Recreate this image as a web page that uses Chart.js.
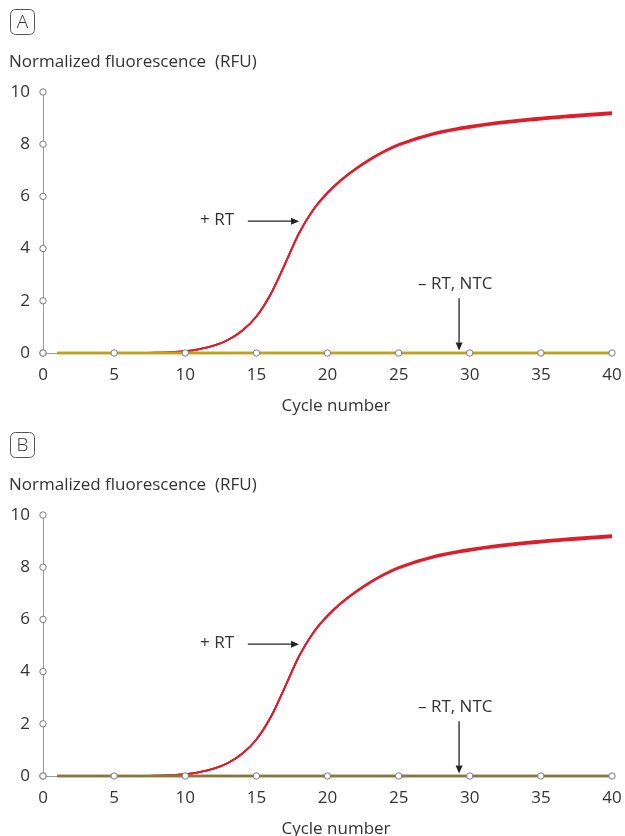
<!DOCTYPE html>
<html lang="en">
<head>
  <meta charset="UTF-8">
  <title>RT-qPCR amplification</title>
  <script src="https://cdn.jsdelivr.net/npm/chart.js"></script>
  <style>
    body { margin: 0; background: #fff; }
    canvas { display: block; }
  </style>
</head>
<body>
  <canvas id="panelA" width="625" height="423"></canvas>
  <canvas id="panelB" width="625" height="413"></canvas>

  <script>
    const cycles = [1, 2, 3, 4, 5, 6, 7, 8, 9, 10, 11, 12, 13, 14, 15, 16, 17, 18, 19, 20,
                    21, 22, 23, 24, 25, 26, 27, 28, 29, 30, 31, 32, 33, 34, 35, 36, 37, 38, 39, 40];

    // + RT replicates
    const plusRT1 = [0, 0, 0, 0, 0, 0, 0, 0.01, 0.03, 0.07, 0.15, 0.28, 0.5, 0.85, 1.4, 2.25, 3.4, 4.6, 5.5, 6.15,
                     6.66, 7.08, 7.44, 7.75, 8.0, 8.2, 8.36, 8.5, 8.61, 8.7, 8.78, 8.85, 8.91, 8.97, 9.02, 9.07, 9.11, 9.15, 9.19, 9.23];
    const plusRT2 = [0, 0, 0, 0, 0, 0, 0, 0.01, 0.03, 0.07, 0.15, 0.28, 0.5, 0.85, 1.39, 2.24, 3.39, 4.58, 5.48, 6.12,
                     6.63, 7.04, 7.4, 7.7, 7.95, 8.14, 8.3, 8.43, 8.54, 8.63, 8.71, 8.78, 8.84, 8.89, 8.94, 8.99, 9.03, 9.07, 9.11, 9.14];
    const plusRT3 = [0, 0, 0, 0, 0, 0, 0, 0.01, 0.03, 0.07, 0.15, 0.28, 0.5, 0.85, 1.4, 2.25, 3.4, 4.59, 5.49, 6.14,
                     6.65, 7.06, 7.42, 7.73, 7.98, 8.17, 8.33, 8.47, 8.58, 8.67, 8.75, 8.82, 8.88, 8.93, 8.98, 9.03, 9.07, 9.11, 9.15, 9.19];
    // - RT and NTC controls
    const minusRT = [0, 0, 0, 0, 0, 0, 0, 0, 0, 0, 0, 0, 0, 0, 0, 0, 0, 0, 0, 0,
                     0, 0, 0, 0, 0, 0, 0, 0, 0, 0, 0, 0, 0, 0, 0, 0, 0, 0, 0, 0];
    const ntc = [0, 0, 0, 0, 0, 0, 0, 0, 0, 0, 0, 0, 0, 0, 0, 0, 0, 0, 0, 0,
                 0, 0, 0, 0, 0, 0, 0, 0, 0, 0, 0, 0, 0, 0, 0, 0, 0, 0, 0, 0];

    const xTicks = [0, 5, 10, 15, 20, 25, 30, 35, 40];
    const yTicks = [0, 2, 4, 6, 8, 10];

    const FONT = '"Open Sans", "Noto Sans", sans-serif';
    const TEXT = '#333333';
    const AXIS = '#9a9a9a';
    const RED = '#dc1f2c';

    function pts(values) {
      return values.map((v, i) => ({ x: cycles[i], y: v }));
    }

    function arrow(ctx, x1, y1, x2, y2) {
      const a = Math.atan2(y2 - y1, x2 - x1);
      const len = 8, w = 3.5;
      ctx.save();
      ctx.strokeStyle = '#222';
      ctx.fillStyle = '#222';
      ctx.lineWidth = 1.3;
      ctx.beginPath();
      ctx.moveTo(x1, y1);
      ctx.lineTo(x2 - len * Math.cos(a), y2 - len * Math.sin(a));
      ctx.stroke();
      ctx.beginPath();
      ctx.moveTo(x2, y2);
      ctx.lineTo(x2 - len * Math.cos(a) - w * Math.sin(a), y2 - len * Math.sin(a) + w * Math.cos(a));
      ctx.lineTo(x2 - len * Math.cos(a) + w * Math.sin(a), y2 - len * Math.sin(a) - w * Math.cos(a));
      ctx.closePath();
      ctx.fill();
      ctx.restore();
    }

    const decorations = {
      id: 'decorations',
      afterDatasetsDraw(chart, args, opts) {
        const ctx = chart.ctx;
        const xs = chart.scales.x, ys = chart.scales.y;
        const area = chart.chartArea;

        // tick circles on both axes
        ctx.save();
        ctx.lineWidth = 1;
        ctx.strokeStyle = '#7a7a7a';
        ctx.fillStyle = '#fff';
        xTicks.forEach(t => {
          ctx.beginPath();
          ctx.arc(xs.getPixelForValue(t), area.bottom, 3.2, 0, Math.PI * 2);
          ctx.fill(); ctx.stroke();
        });
        yTicks.forEach(t => {
          ctx.beginPath();
          ctx.arc(area.left, ys.getPixelForValue(t), 3.2, 0, Math.PI * 2);
          ctx.fill(); ctx.stroke();
        });
        ctx.restore();

        // panel letter box
        ctx.save();
        ctx.strokeStyle = '#555';
        ctx.lineWidth = 1;
        ctx.beginPath();
        ctx.roundRect(10.5, 9.5, 24, 25, 5);
        ctx.stroke();
        ctx.fillStyle = TEXT;
        ctx.font = '300 19px ' + FONT;
        ctx.textAlign = 'center';
        ctx.textBaseline = 'middle';
        ctx.fillText(opts.letter, 22.5, 22.5);

        // y-axis title (horizontal, above the axis)
        ctx.font = '17px ' + FONT;
        ctx.textAlign = 'left';
        ctx.fillText('Normalized fluorescence  (RFU)', 9, 62);

        // x-axis title
        ctx.textAlign = 'center';
        ctx.fillText('Cycle number', 336, 406);

        // annotations
        ctx.textAlign = 'left';
        ctx.fillText('+ RT', 200, 220);
        ctx.fillText('\u2013 RT, NTC', 418, 284);
        ctx.restore();

        arrow(ctx, xs.getPixelForValue(14.4), ys.getPixelForValue(5.05),
                   xs.getPixelForValue(18.0), ys.getPixelForValue(5.05));
        arrow(ctx, xs.getPixelForValue(29.25), ys.getPixelForValue(2.1),
                   xs.getPixelForValue(29.25), ys.getPixelForValue(0.1));
      }
    };

    function makeChart(id, letter, baseColor) {
      const canvas = document.getElementById(id);
      const H = canvas.height;
      const redSet = (data) => ({
        data: pts(data),
        borderColor: RED,
        borderWidth: 1.8,
        pointRadius: 0,
        cubicInterpolationMode: 'monotone',
        clip: false
      });
      new Chart(canvas.getContext('2d'), {
        type: 'line',
        data: {
          datasets: [
            { label: '- RT', data: pts(minusRT), borderColor: baseColor, borderWidth: 2.6, pointRadius: 0, clip: false },
            { label: 'NTC', data: pts(ntc), borderColor: baseColor, borderWidth: 2.6, pointRadius: 0, clip: false },
            Object.assign({ label: '+ RT 1' }, redSet(plusRT1)),
            Object.assign({ label: '+ RT 2' }, redSet(plusRT2)),
            Object.assign({ label: '+ RT 3' }, redSet(plusRT3))
          ]
        },
        options: {
          responsive: false,
          animation: false,
          layout: { padding: { left: 0, right: 13, top: 92, bottom: 0 } },
          plugins: {
            legend: { display: false },
            tooltip: { enabled: false },
            decorations: { letter: letter }
          },
          scales: {
            x: {
              type: 'linear',
              min: 0,
              max: 40,
              afterBuildTicks: (scale) => { scale.ticks = xTicks.map(v => ({ value: v })); },
              afterFit: (scale) => {
                scale.height = H - 353;
                scale.paddingLeft = 0;
                scale.paddingRight = 0;
              },
              grid: { display: true, drawOnChartArea: false, drawTicks: false },
              border: { display: true, color: AXIS, width: 1 },
              ticks: { color: TEXT, padding: 12, font: { family: FONT, size: 17 } }
            },
            y: {
              min: 0,
              max: 10,
              afterBuildTicks: (scale) => { scale.ticks = yTicks.map(v => ({ value: v })); },
              afterFit: (scale) => {
                scale.width = 43;
                scale.paddingTop = 0;
                scale.paddingBottom = 0;
              },
              grid: { display: true, drawOnChartArea: false, drawTicks: false },
              border: { display: true, color: AXIS, width: 1 },
              ticks: { color: TEXT, padding: 13, font: { family: FONT, size: 17 } }
            }
          }
        },
        plugins: [decorations]
      });
    }

    makeChart('panelA', 'A', '#bfa11c');
    makeChart('panelB', 'B', '#857a40');
  </script>
</body>
</html>
